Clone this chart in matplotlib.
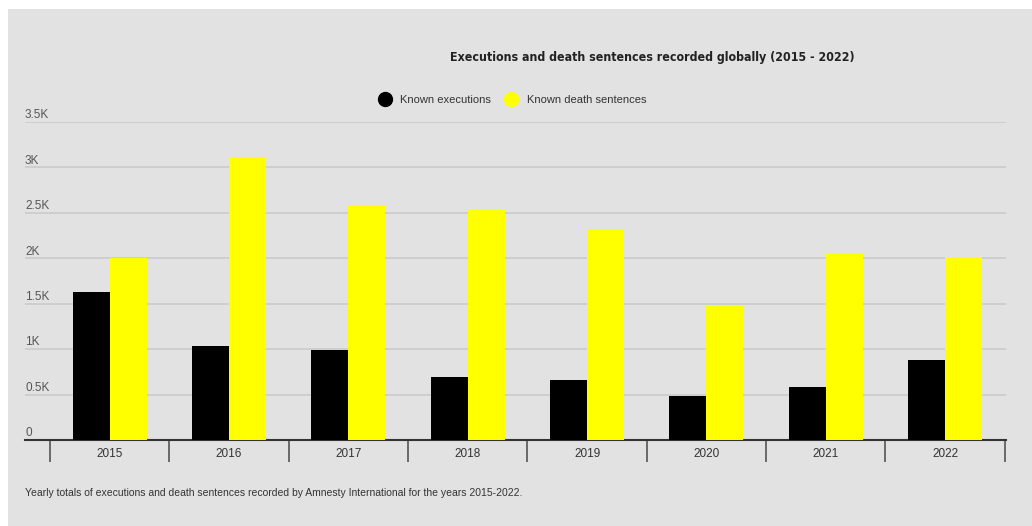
import numpy as np
import matplotlib
matplotlib.use("Agg")
import matplotlib.pyplot as plt
from matplotlib.lines import Line2D

years = ["2015", "2016", "2017", "2018", "2019", "2020", "2021", "2022"]
executions = [1634, 1032, 993, 690, 657, 483, 579, 883]
death_sentences = [1998, 3117, 2591, 2531, 2307, 1477, 2052, 2016]
ytick_vals = [0, 500, 1000, 1500, 2000, 2500, 3000, 3500]
ytick_labels = ["0", "0.5K", "1K", "1.5K", "2K", "2.5K", "3K", "3.5K"]

BG = "#e2e2e2"
W, H = 1032, 526
plt.rcParams['font.family'] = ['Liberation Sans', 'DejaVu Sans']

fig = plt.figure(figsize=(W / 100, H / 100), dpi=100)
fig.patch.set_facecolor("white")
# grey panel with a thin white margin at top and left
fig.add_artist(plt.Rectangle((8 / W, 0), 1, 1 - 9 / H, transform=fig.transFigure,
                             facecolor=BG, edgecolor="none", zorder=-10))

ax = fig.add_axes([25 / W, 1 - 440 / H, (1006 - 25) / W, (440 - 122) / H])
ax.set_facecolor(BG)
ax.patch.set_alpha(0)

x = np.arange(len(years))
bw = 0.31
ax.bar(x - bw / 2, executions, width=bw, color="black", zorder=3)
ax.bar(x + bw / 2, death_sentences, width=bw, color="#ffff00", zorder=3)

ax.set_xlim(-0.71, 7.51)
ax.set_ylim(0, 3500)
for v in ytick_vals[1:]:
    ax.axhline(v, color="#c8c8c8", lw=1.1, zorder=1)
for v, lab in zip(ytick_vals, ytick_labels):
    ax.annotate(lab, (0, v), xycoords=("axes fraction", "data"),
                xytext=(0, 0.5), textcoords="offset points",
                ha="left", va="bottom", fontsize=8.5, color="#555555")

for s in ["top", "right", "left"]:
    ax.spines[s].set_visible(False)
ax.spines["bottom"].set_color("#333333")
ax.spines["bottom"].set_linewidth(1.5)
ax.set_yticks([])
ax.set_xticks(np.arange(-0.5, 8, 1))
ax.tick_params(axis="x", length=16, width=1.2, color="#555555", labelbottom=False)
for xi, yr in zip(x, years):
    ax.annotate(yr, (xi, 0), xycoords=("data", "data"), xytext=(0, -5.5),
                textcoords="offset points", ha="center", va="top",
                fontsize=8.5, color="#333333")

fig.text(652 / W, 1 - 57 / H,
         "Executions and death sentences recorded globally (2015 - 2022)",
         ha="center", va="center", fontsize=8.9, fontweight="bold", color="#222222",
         family=["DejaVu Sans"], fontstretch="condensed")

handles = [Line2D([], [], marker="o", ls="", color="black", markersize=10),
           Line2D([], [], marker="o", ls="", color="#ffff00", markersize=10)]
fig.legend(handles, ["Known executions", "Known death sentences"],
           loc="center", bbox_to_anchor=(510 / W, 1 - 100 / H), ncol=2,
           frameon=False, fontsize=8, handletextpad=0.4, columnspacing=0.8,
           labelcolor="#333333")

fig.text(25 / W, 1 - 493 / H,
         "Yearly totals of executions and death sentences recorded by Amnesty International for the years 2015-2022.",
         ha="left", va="center", fontsize=7.5, color="#333333")

fig.savefig("out.png", dpi=100, facecolor=fig.get_facecolor())
